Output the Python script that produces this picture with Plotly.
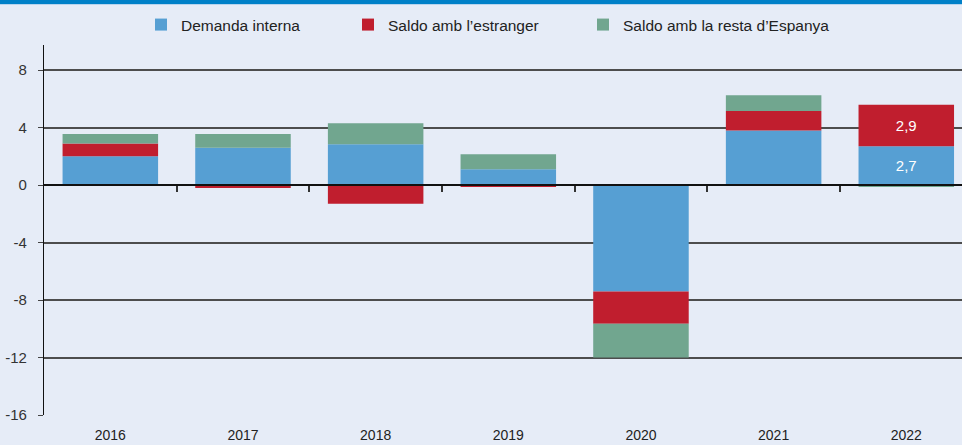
import plotly.graph_objects as go

years = ["2016", "2017", "2018", "2019", "2020", "2021", "2022"]
demanda_interna = [2.0, 2.6, 2.85, 1.1, -7.4, 3.8, 2.7]
saldo_estranger = [0.9, -0.2, -1.3, -0.1, -2.25, 1.35, 2.9]
saldo_espanya = [0.65, 0.95, 1.45, 1.05, -2.35, 1.1, -0.08]
labelled_year = "2022"
y_ticks = [-16, -12, -8, -4, 0, 4, 8]

FONT = "Liberation Sans Narrow, Arial Narrow, Liberation Sans, sans-serif"
W, H = 962, 445
ML, MR, MT, MB = 44, 0, 45, 30
YMIN, YMAX = -16, 9.75
XMIN, XMAX = -0.5, 6.42

def labels(vals):
    return [f"{v:.1f}".replace(".", ",") if y == labelled_year else "" for y, v in zip(years, vals)]

fig = go.Figure()
series = [
    ("Demanda interna", demanda_interna, "#569FD3", "legend", 155),
    ("Saldo amb l\u2019estranger", saldo_estranger, "#C01E2E", "legend2", 362),
    ("Saldo amb la resta d\u2019Espanya", saldo_espanya, "#71A68F", "legend3", 597),
]
legends = {}
for i, (name, vals, col, lg, sq_x) in enumerate(series):
    fig.add_trace(go.Bar(
        x=years, y=vals, name=name, marker=dict(color=col, line=dict(width=0)),
        width=0.72, legend=lg,
        text=labels(vals) if i < 2 else None,
        textposition="inside", insidetextanchor="middle",
        textfont=dict(color="white", size=15, family=FONT),
        cliponaxis=False,
    ))
    legends[lg] = dict(orientation="h", xref="container", x=(sq_x - 14) / W, xanchor="left",
                       yref="container", y=1 - 25 / H, yanchor="middle",
                       font=dict(size=15.5, color="#222222"), bgcolor="rgba(0,0,0,0)")

# helper trace to render the category-boundary axis at zero
fig.add_trace(go.Scatter(x=[0], y=[0], xaxis="x2", mode="markers",
                         marker=dict(opacity=0), showlegend=False, hoverinfo="skip"))

zero_pos = (0 - YMIN) / (YMAX - YMIN)
plot_h = H - MT - MB
plot_w = W - ML - MR

fig.update_layout(
    width=W, height=H,
    margin=dict(l=ML, r=MR, t=MT, b=MB),
    paper_bgcolor="#E6ECF7", plot_bgcolor="#E6ECF7",
    barmode="relative", bargap=0.28,
    separators=",.",
    font=dict(family=FONT, size=14, color="#333333"),
    xaxis=dict(type="category", range=[XMIN, XMAX], showgrid=False, showline=False,
               ticks="", zeroline=False, tickfont=dict(size=14, color="#222222"),
               ticklabelstandoff=10),
    xaxis2=dict(type="linear", overlaying="x", anchor="free", position=zero_pos,
                range=[XMIN, XMAX], tickvals=[0.5, 1.5, 2.5, 3.5, 4.5, 5.5],
                showticklabels=False, ticks="outside", ticklen=6, tickwidth=1.5,
                tickcolor="#333333", showline=True, linecolor="#111111", linewidth=1.5,
                showgrid=False, zeroline=False, layer="above traces"),
    yaxis=dict(range=[YMIN, YMAX], tickvals=y_ticks, ticktext=[str(v) for v in y_ticks],
               showgrid=True, gridcolor="#4d4d4d",
               gridwidth=1.5, zeroline=False, showline=True, linecolor="#111111",
               linewidth=1.2, ticks="outside", ticklen=5, tickcolor="#444444",
               tickfont=dict(size=15, color="#333333"), ticklabelstandoff=8),
    shapes=[
        dict(type="rect", xref="paper", yref="paper",
             x0=-ML / plot_w, x1=1 + 0.01, y0=1 + (MT - 4) / plot_h, y1=1 + (MT + 2) / plot_h,
             fillcolor="#0080C8", line=dict(width=0), layer="above"),
        dict(type="line", xref="paper", yref="paper",
             x0=-ML / plot_w, x1=1 + 0.01, y0=1 + (MT - 4.5) / plot_h, y1=1 + (MT - 4.5) / plot_h,
             line=dict(color="#B8D4EE", width=1), layer="above"),
    ],
    **legends,
)

fig.write_html("out.html", config={"displayModeBar": False},
               post_script="document.body.style.margin='0';document.body.style.padding='0';")
